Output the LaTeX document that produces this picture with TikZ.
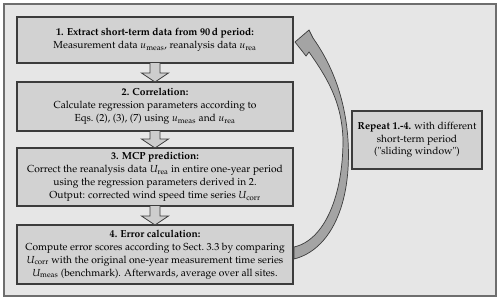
\documentclass[tikz,border=0pt]{standalone}
\usepackage[T1]{fontenc}
\usepackage{mathpazo}
\usetikzlibrary{calc}
\definecolor{outerfill}{HTML}{E6E6E6}
\definecolor{outerline}{HTML}{6E6E6E}
\definecolor{boxfill}{HTML}{D2D2D2}
\definecolor{boxline}{HTML}{3C3C3C}
\definecolor{arrfill}{HTML}{CDCDCD}
\definecolor{curvefill}{HTML}{A4A4A4}
\newcommand{\blockdown}[2]{%
  \draw[downarrow] ($(#1.south)+(-5,0)$) -- ($(#2.north)+(-5,-9)$) -- ($(#2.north)+(-13.5,-9)$)
    -- (#2.north) -- ($(#2.north)+(13.5,-9)$) -- ($(#2.north)+(5,-9)$) -- ($(#1.south)+(5,0)$);}
\begin{document}
\begin{tikzpicture}[x=1pt,y=-1pt,
  stepbox/.style={draw=boxline, fill=boxfill, line width=1.1pt, minimum width=276pt,
    outer sep=0pt, inner sep=0pt, align=center, font=\fontsize{10.2}{13}\selectfont},
  downarrow/.style={draw=boxline, fill=arrfill, line width=0.8pt, line join=miter},
  repeatbox/.style={draw=boxline, fill=boxfill, line width=1.1pt, minimum width=130pt,
    minimum height=58pt, outer sep=0pt, inner sep=0pt, align=center,
    font=\fontsize{10.2}{12.6}\selectfont}]
\useasboundingbox (0,0) rectangle (500,301);
\draw[draw=outerline, fill=outerfill, line width=1.2pt] (4,4) rectangle (496,296);

\node[stepbox, minimum height=46pt] (b1) at (155,40)
  {\textbf{1. Extract short-term data from 90\,d period:}\\
   Measurement data $u_{\mathrm{meas}}$, reanalysis data $u_{\mathrm{rea}}$};
\node[stepbox, minimum height=49pt] (b2) at (155,106.5)
  {\textbf{2. Correlation:}\\
   Calculate regression parameters according to\\
   Eqs.~(2), (3), (7) using $u_{\mathrm{meas}}$ and $u_{\mathrm{rea}}$};
\node[stepbox, minimum height=58pt] (b3) at (155,177)
  {\textbf{3. MCP prediction:}\\
   Correct the reanalysis data $U_{\mathrm{rea}}$ in entire one-year period\\
   using the regression parameters derived in 2.\\
   Output: corrected wind speed time series $U_{\mathrm{corr}}$};
\node[stepbox, minimum height=59pt] (b4) at (155,254.5)
  {\textbf{4. Error calculation:}\\
   Compute error scores according to Sect.~3.3 by comparing\\
   $U_{\mathrm{corr}}$ with the original one-year measurement time series\\
   $U_{\mathrm{meas}}$ (benchmark). Afterwards, average over all sites.};
\node[repeatbox] (rep) at (417,140)
  {\textbf{Repeat 1.-4.} with different\\
   short-term period\\
   (\textquotedbl sliding window\textquotedbl)};

\blockdown{b1}{b2}
\blockdown{b2}{b3}
\blockdown{b3}{b4}

% curved return arrow
\draw[draw=boxline, fill=curvefill, line width=0.7pt, line join=miter]
  (294,259) .. controls (330,250) and (352,205) .. (348,140)
  .. controls (345,95) and (330,62) .. (313,38)
  -- (309,30) -- (295,42) -- (306,56) -- (309,52)
  .. controls (325,75) and (342,100) .. (343,140)
  .. controls (343,195) and (325,240) .. (294,247) -- cycle;
\end{tikzpicture}
\end{document}
